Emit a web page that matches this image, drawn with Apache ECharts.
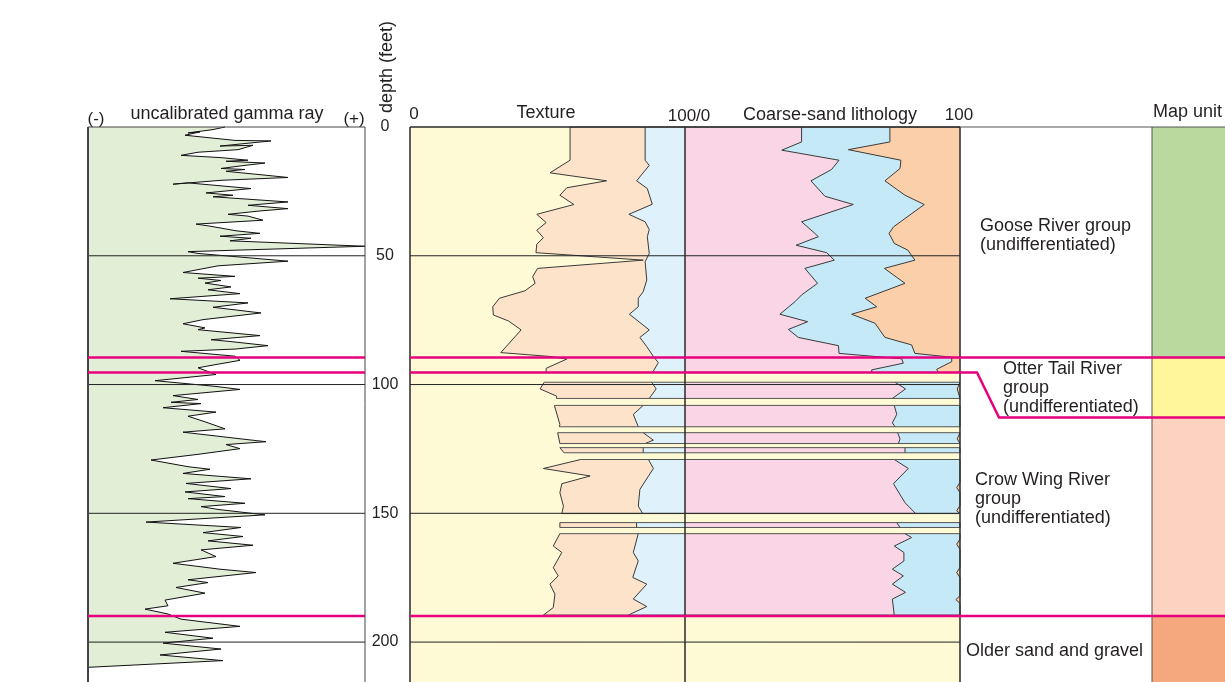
<!DOCTYPE html>
<html>
<head>
<meta charset="utf-8">
<script src="https://cdn.jsdelivr.net/npm/echarts@6/dist/echarts.min.js"></script>
<style>
html, body { margin: 0; padding: 0; background: #fff; }
#main { width: 1225px; height: 682px; }
</style>
</head>
<body>
<div id="main"></div>
<script>
// depth scale, feet
var depthMax = 215.5;
var depthTicks = [0, 50, 100, 150, 200];

// uncalibrated gamma ray log: [depth, counts]
var gammaRay = [
  [0,137],[1.0,125],[2.3,100],[1.9,112],[3.2,97],[5.2,147],[5.4,183],[7.4,132],[7.1,165],[8.8,150],
  [9.8,110],[11.0,93],[11.9,133],[12.9,160],[13.3,138],[14.0,177],[14.9,157],[16.1,133],[16.5,157],[17.2,138],
  [18.5,172],[19.6,200],[20.7,133],[22.2,85],[21.7,100],[23.9,163],[25.6,118],[26.5,145],[27.1,125],[29.1,200],
  [30.4,160],[31.7,200],[32.6,172],[33.9,140],[34.6,160],[36.2,175],[37.7,108],[38.5,122],[40.3,148],[41.3,172],
  [42.4,132],[43.2,163],[44.2,142],[46.3,277],[48.4,100],[49.1,110],[52.1,200],
  [53.9,130],[56.5,95],[58.0,147],[58.7,110],[59.6,133],[60.6,117],[62.1,143],[63.2,120],[64.7,152],[66.7,82],
  [68.3,160],[70.0,125],[72.2,173],[74.8,115],[76.4,95],[78.0,117],[78.7,110],[81.0,172],[82.6,123],[83.2,140],
  [84.9,180],[86.2,148],[87.1,93],[89.0,147],[90.6,152],[92.3,127],[93.5,110],[96.1,128],[98.5,67],[100.7,127],
  [101.9,152],[104.3,85],[105.8,110],[106.9,83],[107.4,113],[109.0,75],[110.7,128],[112.3,100],[114.6,118],[117.2,137],
  [118.5,95],[121.1,153],[122.2,178],[123.3,138],[124.9,152],[127.1,110],[129.3,63],[131.9,100],[132.9,122],[134.5,95],
  [136.6,163],[138.4,98],[140.4,143],[141.7,97],[143.5,137],[144.3,100],[146.1,157],[147.4,113],[148.5,130],[150.6,177],
  [153.4,58],[155.5,153],[157.5,115],[159.0,155],[160.7,120],[162.4,165],[164.2,113],[166.8,128],[169.4,85],[171.7,132],
  [173.0,168],[175.8,100],[176.9,120],[178.8,88],[181.0,117],[183.7,77],[185.9,80],[187.2,57],[189.1,80],[191.1,93],
  [193.9,152],[196.2,77],[198.5,125],[200.4,75],[202.7,133],[205.0,72],[207.2,135],[209.8,0]
];

// sampled intervals (feet)
var sampleTop    = [0,    99.1,  108.1, 118.7, 124.5, 129.1, 153.6, 157.9];
var sampleBottom = [95.3, 105.4, 116.4, 122.9, 126.5, 150.1, 155.5, 189.5];

// texture, cumulative percent: [depth, percent]
var texSand = [
  [0,58.2],[12.9,58.2],[17.8,50.9],[20.9,71.5],[23.6,57.0],[26.5,54.5],[30.1,59.6],[33.9,46.1],[37.1,49.5],[40.1,46.1],
  [43.0,48.5],[45.5,46.1],[48.8,45.8],[51.7,84.8],[54.9,46.4],[58.1,44.6],[60.7,45.5],[63.6,41.8],[66.5,32.5],[69.8,30.1],
  [73.0,30.3],[75.3,35.8],[78.8,40.4],[87.6,33.0],[89.1,50.9],[90.1,57.0],[93.7,49.5],[95.3,49.5],
  [99.1,48.8],[101.7,47.3],[104.5,53.3],[105.4,53.3],
  [108.1,52.5],[115.5,54.5],[116.4,54.3],
  [118.7,53.7],[122.9,54.5],
  [124.5,54.5],[126.5,56.0],
  [129.1,62.1],[132.6,48.5],[135.5,65.5],[138.5,55.2],[142.0,54.5],[147.2,55.8],[150.1,55.2],
  [153.6,54.5],[155.5,54.5],
  [157.9,54.5],[162.7,52.1],[165.2,55.2],[171.1,52.1],[174.3,53.9],[177.5,50.9],[181.4,52.7],[186.6,52.1],[189.5,48.5]
];
var texSilt = [
  [0,85.5],[12.9,85.5],[14.9,87.0],[20.9,82.4],[23.9,86.3],[30.0,88.1],[33.9,79.6],[36.8,85.5],[39.8,87.0],[42.6,86.3],
  [49.1,87.0],[52.3,85.5],[59.4,86.1],[64.0,84.8],[66.5,83.0],[69.8,83.0],[72.7,79.8],[78.8,87.0],[81.7,83.6],[85.3,86.1],
  [89.1,88.5],[91.5,90.3],[95.3,88.2],
  [99.1,87.9],[101.7,89.5],[105.4,87.0],
  [108.1,84.8],[111.6,81.2],[116.4,83.0],
  [118.7,84.8],[121.6,88.5],[122.9,85.5],
  [124.5,84.8],[126.5,84.8],
  [129.1,86.7],[132.6,88.5],[140.7,83.6],[147.2,83.0],[150.1,84.6],
  [153.6,82.4],[155.5,82.4],
  [157.9,83.0],[165.2,81.2],[168.5,83.0],[174.9,81.0],[177.5,86.1],[183.3,81.2],[186.2,86.1],[189.5,79.4]
];

// coarse-sand lithology, cumulative percent: [depth, percent]
var lithCrystalline = [
  [0,42.4],[5.8,42.4],[9.0,35.2],[12.9,56.0],[16.5,53.3],[20.9,45.8],[26.9,50.9],[30.1,61.2],[36.8,42.4],[41.1,47.0],
  [42.6,48.5],[45.9,40.4],[48.8,51.5],[51.7,54.3],[54.9,43.6],[60.7,48.2],[65.2,42.4],[67.8,40.0],[72.7,34.5],[75.6,44.6],
  [78.6,37.6],[81.7,41.2],[84.9,55.8],[87.9,56.0],[90.0,78.8],[91.7,79.4],[94.3,67.9],[95.3,67.9],
  [99.1,76.4],[101.7,80.2],[105.4,75.4],
  [108.1,76.1],[111.6,77.0],[114.9,75.4],[116.4,76.4],
  [118.7,77.3],[121.1,78.2],[122.9,77.6],
  [124.5,80.0],[126.5,80.0],
  [129.1,76.1],[132.6,81.2],[138.5,75.8],[145.9,80.0],[150.1,83.9],
  [153.6,77.0],[155.5,78.2],
  [157.9,80.0],[159.4,82.4],[162.7,76.1],[165.2,79.6],[168.5,79.6],[171.7,75.4],[174.3,79.4],[177.5,75.4],[180.7,80.2],
  [183.3,75.4],[189.5,76.1]
];
var lithCarbonate = [
  [0,74.5],[5.8,74.5],[8.8,59.4],[12.9,78.5],[16.1,78.2],[20.9,72.7],[26.5,80.0],[30.1,87.0],[38.8,75.8],[41.3,74.2],
  [45.2,76.1],[47.8,81.0],[51.7,83.6],[54.9,72.5],[60.7,80.0],[66.5,65.5],[69.8,69.7],[72.7,60.6],[76.2,69.1],[81.7,72.7],
  [84.6,82.4],[87.9,83.6],[89.4,97.0],[91.1,97.0],[94.1,91.5],[95.3,92.1],
  [99.1,100],[101.7,99],[105.4,100],
  [108.1,100],[116.4,100],
  [118.7,100],[121.1,99],[122.9,100],
  [124.5,100],[126.5,100],
  [129.1,100],[138,100],[140,98.8],[142,100],[147,100],[149,98.8],[150.1,100],
  [153.6,100],[155.5,100],
  [157.9,100],[160,100],[162,98.8],[164,100],[171,100],[173,98.8],[175,100],[182,100],[183.5,98.5],[185,100],[189.5,100]
];

// map units
var unitNames = [
  'Goose River group\n(undifferentiated)',
  'Otter Tail River\ngroup\n(undifferentiated)',
  'Crow Wing River\ngroup\n(undifferentiated)',
  'Older sand and gravel'
];
var unitTop    = [0,    89.5,  112.8, 189.9];
var unitBottom = [89.5, 112.8, 189.9, depthMax];
var logContact = [89.5, 95.3, 189.9];   // contacts as seen in the log
var mapContact = [89.5, 112.8, 189.9];  // same contacts in map-unit column

// styles
var font = '"Liberation Sans", Arial, Helvetica, sans-serif';
var ink = '#231f20';
var unitColors = ['#b9d99f', '#fff59b', '#fbd3c0', '#f5a77d'];
var magenta = '#e6007e';
var fills = {
  gamma: '#e2eed6', silt: '#fde3c9', clay: '#dff2fb',
  crystalline: '#f9d5e6', carbonate: '#c6e9f8', shale: '#fbcfa9'
};
var labelX = [20, 43, 15, 6];
var labelDepth = [42.2, 101.2, 144.6, 203.5];

var chart = echarts.init(document.getElementById('main'));

function poly(points, fill) {
  return { type: 'polygon', shape: { points: points }, style: { fill: fill, stroke: 'none' } };
}
function pline(points, stroke, width) {
  return { type: 'polyline', shape: { points: points }, style: { fill: 'none', stroke: stroke, lineWidth: width } };
}
function inInterval(line, t, b) {
  return line.filter(function (p) { return p[0] >= t - 0.05 && p[0] <= b + 0.05; });
}

function renderGamma(params, api) {
  var curve = gammaRay.map(function (p) { return api.coord([p[1], p[0]]); });
  var area = [api.coord([0, gammaRay[0][0]])].concat(curve, [api.coord([0, gammaRay[gammaRay.length - 1][0]])]);
  return { type: 'group', children: [poly(area, fills.gamma), pline(curve, '#111', 1)] };
}

function renderLog(params, api) {
  var ch = [];
  function pts(line, off) { return line.map(function (p) { return api.coord([p[1] + off, p[0]]); }); }
  for (var i = 0; i < sampleTop.length; i++) {
    var t = sampleTop[i], b = sampleBottom[i];
    var a = pts(inInterval(texSand, t, b), 0);
    var s = pts(inInterval(texSilt, t, b), 0);
    var c = pts(inInterval(lithCrystalline, t, b), 100);
    var d = pts(inInterval(lithCarbonate, t, b), 100);
    ch.push(poly(a.concat(s.slice().reverse()), fills.silt));
    ch.push(poly(s.concat([api.coord([100, b]), api.coord([100, t])]), fills.clay));
    ch.push(poly([api.coord([100, t])].concat(c, [api.coord([100, b])]), fills.crystalline));
    ch.push(poly(c.concat(d.slice().reverse()), fills.carbonate));
    ch.push(poly(d.concat([api.coord([200, b]), api.coord([200, t])]), fills.shale));
    [a, s, c, d].forEach(function (l) { ch.push(pline(l, '#3a3a3a', 1)); });
    ch.push(pline([a[0], api.coord([200, t])], '#555', 1));
    ch.push(pline([a[a.length - 1], api.coord([200, b])], '#555', 1));
  }
  return { type: 'group', children: ch };
}

function renderUnits(params, api) {
  var ch = [];
  for (var i = 0; i < unitNames.length; i++) {
    var p0 = api.coord([192, unitTop[i]]), p1 = api.coord([265, unitBottom[i]]);
    ch.push({ type: 'rect', shape: { x: p0[0], y: p0[1], width: p1[0] - p0[0], height: p1[1] - p0[1] },
      style: { fill: unitColors[i], stroke: 'none' } });
    var lp = api.coord([labelX[i], labelDepth[i]]);
    ch.push({ type: 'text', x: lp[0], y: lp[1], style: {
      text: unitNames[i], font: '18px ' + font, fill: ink, lineHeight: 19,
      align: 'left', verticalAlign: 'middle', textAlign: 'left', textVerticalAlign: 'middle' } });
  }
  return { type: 'group', children: ch };
}

function depthLines(xmax) {
  return function (params, api) {
    var ch = depthTicks.slice(1).map(function (d) {
      return pline([api.coord([0, d]), api.coord([xmax, d])], '#222', 1);
    });
    return { type: 'group', children: ch };
  };
}

function frame(segs, color, width) {
  return function (params, api) {
    return { type: 'group', children: segs.map(function (sg) {
      return pline(sg.map(function (p) { return api.coord(p); }), color, width);
    }) };
  };
}

function contacts(xmax, which) {
  return function (params, api) {
    var ch = logContact.map(function (d, i) {
      var path = which === 'map'
        ? [[0, d], [17, d], [39, mapContact[i]], [xmax, mapContact[i]]]
        : [[0, d], [xmax, d]];
      return pline(path.map(function (p) { return api.coord(p); }), magenta, 2.5);
    });
    return { type: 'group', children: ch };
  };
}

function custom(idx, fn, z) {
  return { type: 'custom', xAxisIndex: idx, yAxisIndex: idx, data: [[0, 0]], renderItem: fn,
    silent: true, animation: false, z: z || 2, clip: false };
}

function hText(text, x, y, size, align) {
  return { type: 'text', x: x, y: y, style: { text: text, font: size + 'px ' + font, fill: ink,
    align: align || 'center', verticalAlign: 'middle', textAlign: align || 'center', textVerticalAlign: 'middle' } };
}

var option = {
  animation: false,
  backgroundColor: '#fff',
  grid: [
    { left: 88, top: 127, width: 277, height: 556, show: true, borderWidth: 0, backgroundColor: '#fff' },
    { left: 410, top: 127, width: 550, height: 556, show: true, borderWidth: 0, backgroundColor: '#fffad6' },
    { left: 960, top: 127, width: 265, height: 556 }
  ],
  xAxis: [
    { gridIndex: 0, type: 'value', min: 0, max: 277, show: false },
    { gridIndex: 1, type: 'value', min: 0, max: 200, show: false },
    { gridIndex: 2, type: 'value', min: 0, max: 265, show: false }
  ],
  yAxis: [
    { gridIndex: 0, type: 'value', min: 0, max: depthMax, inverse: true, show: false },
    { gridIndex: 1, type: 'value', min: 0, max: depthMax, inverse: true, interval: 50,
      axisLine: { show: false }, axisTick: { show: false }, splitLine: { show: false },
      axisLabel: { margin: 25, align: 'center', fontSize: 16, fontFamily: font, color: ink, showMaxLabel: false,
        formatter: function (v) { return depthTicks.indexOf(v) >= 0 ? String(v) : ''; } } },
    { gridIndex: 2, type: 'value', min: 0, max: depthMax, inverse: true, show: false }
  ],
  graphic: [
    hText('(-)', 96, 119, 17),
    hText('uncalibrated gamma ray', 227, 114, 18),
    hText('(+)', 354, 119, 17),
    { type: 'text', x: 387, y: 67, rotation: Math.PI / 2, style: { text: 'depth (feet)', font: '18px ' + font,
      fill: ink, align: 'center', verticalAlign: 'middle', textAlign: 'center', textVerticalAlign: 'middle' } },
    hText('0', 414, 114, 17),
    hText('Texture', 546, 113, 18),
    hText('100/0', 689, 116, 17),
    hText('Coarse-sand lithology', 830, 115, 18),
    hText('100', 959, 115, 17),
    hText('Map unit', 1153, 112, 18, 'left')
  ],
  series: [
    custom(0, renderGamma),
    custom(1, renderLog),
    custom(2, renderUnits),
    custom(0, depthLines(277), 3),
    custom(1, depthLines(200), 3),
    custom(0, frame([[[0, 0], [277, 0]], [[277, 0], [277, depthMax]]], '#444', 1), 4),
    custom(0, frame([[[0, 0], [0, depthMax]]], '#444', 2), 4),
    custom(1, frame([[[0, 0], [200, 0]], [[0, 0], [0, depthMax]], [[100, 0], [100, depthMax]], [[200, 0], [200, depthMax]]], '#2a2a2a', 1.5), 4),
    custom(2, frame([[[0, 0], [265, 0]], [[192, 0], [192, depthMax]]], '#555', 1), 4),
    custom(0, contacts(277, 'log'), 5),
    custom(1, contacts(200, 'log'), 5),
    custom(2, contacts(265, 'map'), 5)
  ]
};
chart.setOption(option);
</script>
</body>
</html>
